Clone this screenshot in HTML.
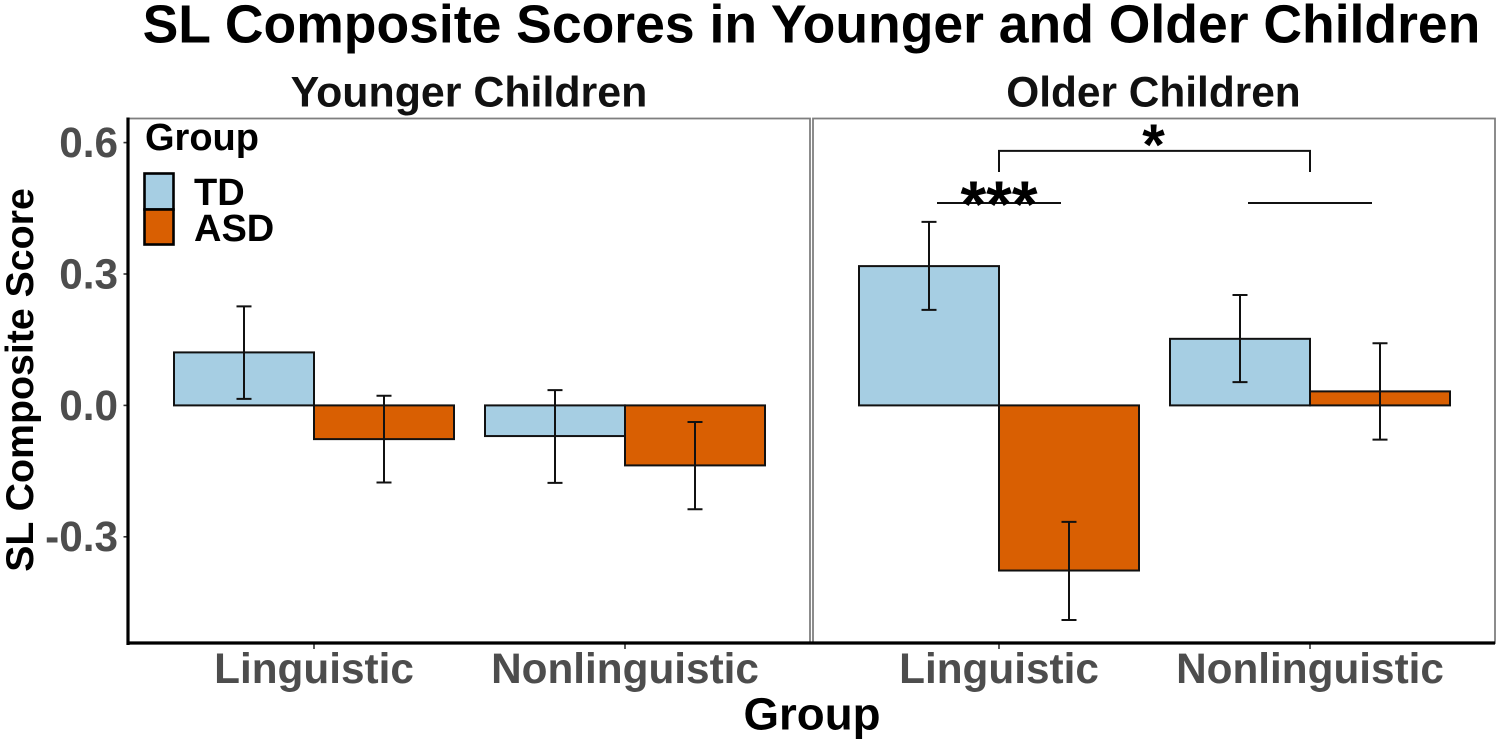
<!DOCTYPE html>
<html lang="en">
<head>
<meta charset="utf-8">
<title>SL Composite Scores in Younger and Older Children</title>
<style>
html,body{margin:0;padding:0;background:#fff;}
svg{display:block;}
text{font-family:"Liberation Sans",sans-serif;font-weight:bold;}
</style>
</head>
<body>
<svg id="chart" xmlns="http://www.w3.org/2000/svg" width="1499" height="743" viewBox="0 0 1499 743">
  <rect x="0" y="0" width="1499" height="743" fill="#fff"/>
  <text x="811.5" y="42.5" font-size="53.5" text-anchor="middle" fill="#000">SL Composite Scores in Younger and Older Children</text>
  <text x="469" y="106.5" font-size="42.9" text-anchor="middle" fill="#111">Younger Children</text>
  <text x="1153.5" y="106.5" font-size="42.4" text-anchor="middle" fill="#111">Older Children</text>
  <text transform="translate(33,380) rotate(-90)" font-size="39.3" text-anchor="middle" fill="#000">SL Composite Score</text>
  <text x="812" y="729.5" font-size="45.7" text-anchor="middle" fill="#000">Group</text>
  <g id="marks"></g>
  <g>
    <text x="145" y="150" font-size="38" fill="#000">Group</text>
    <rect x="144.5" y="173.5" width="29" height="36" fill="#A6CEE3" stroke="#000" stroke-width="2.6"/>
    <rect x="144.5" y="209.5" width="29" height="35" fill="#D95F02" stroke="#000" stroke-width="2.6"/>
    <text x="194" y="205" font-size="38" fill="#000">TD</text>
    <text x="194" y="241" font-size="38" fill="#000">ASD</text>
  </g>
</svg>
<script>
// Chart data
const panels = ["Younger Children", "Older Children"];
const categories = ["Linguistic", "Nonlinguistic"];
const groups = ["TD", "ASD"];
const yTicks = [0.6, 0.3, 0.0, -0.3];
const yTickLabels = ["0.6", "0.3", "0.0", "-0.3"];

const youngerTdMean = [0.121, -0.070];
const youngerTdHigh = [0.226, 0.035];
const youngerTdLow = [0.015, -0.177];
const youngerAsdMean = [-0.077, -0.137];
const youngerAsdHigh = [0.022, -0.038];
const youngerAsdLow = [-0.176, -0.237];

const olderTdMean = [0.318, 0.152];
const olderTdHigh = [0.419, 0.252];
const olderTdLow = [0.218, 0.053];
const olderAsdMean = [-0.377, 0.032];
const olderAsdHigh = [-0.266, 0.142];
const olderAsdLow = [-0.490, -0.078];

const groupLineLevel = 0.462;
const bracketTop = 0.581;
const bracketBottom = 0.533;

const seriesByPanel = [
  [
    { mean: youngerTdMean, high: youngerTdHigh, low: youngerTdLow },
    { mean: youngerAsdMean, high: youngerAsdHigh, low: youngerAsdLow }
  ],
  [
    { mean: olderTdMean, high: olderTdHigh, low: olderTdLow },
    { mean: olderAsdMean, high: olderAsdHigh, low: olderAsdLow }
  ]
];

// Axis functions
const PANEL_LEFT = [128, 813];
const PANEL_WIDTH = 682;
const PANEL_TOP = 118.5;
const PANEL_BOTTOM = 643;
const BAR_W = 140;
const y = v => 405.4 - v * 438;
const xCat = (p, c) => PANEL_LEFT[p] + 186 + c * 311;
const xBar = (p, c, g) => xCat(p, c) + (g === 0 ? -BAR_W : 0);

const NS = "http://www.w3.org/2000/svg";
const root = document.getElementById("marks");
function make(tag, attrs, parent) {
  const el = document.createElementNS(NS, tag);
  Object.keys(attrs).forEach(k => el.setAttribute(k, attrs[k]));
  (parent || root).appendChild(el);
  return el;
}
const colors = ["#A6CEE3", "#D95F02"];

panels.forEach((panelName, p) => {
  const slug = p === 0 ? "younger" : "older";
  const border = make("rect", { x: PANEL_LEFT[p], y: PANEL_TOP, width: PANEL_WIDTH, height: PANEL_BOTTOM - PANEL_TOP, fill: "none", stroke: "#7f7f7f", "stroke-width": 1.8 });
  
  

  categories.forEach((cat, c) => {
    groups.forEach((grp, g) => {
      const s = seriesByPanel[p][g];
      const v = s.mean[c];
      const bx = xBar(p, c, g);
      const bar = make("rect", { x: bx, y: Math.min(y(v), y(0)), width: BAR_W, height: Math.abs(y(v) - y(0)), fill: colors[g], stroke: "#111", "stroke-width": 2 });
      
      
    });
  });
  categories.forEach((cat, c) => {
    groups.forEach((grp, g) => {
      const s = seriesByPanel[p][g];
      const cx = xBar(p, c, g) + BAR_W / 2;
      const yh = y(s.high[c]);
      const yl = y(s.low[c]);
      const err = make("path", {
        d: "M" + (cx - 7.5) + " " + yh + "H" + (cx + 7.5) + "M" + cx + " " + yh + "V" + yl + "M" + (cx - 7.5) + " " + yl + "H" + (cx + 7.5),
        fill: "none", stroke: "#111", "stroke-width": 2
      });
      
      
    });
    const tick = make("line", { x1: xCat(p, c), x2: xCat(p, c), y1: PANEL_BOTTOM, y2: PANEL_BOTTOM + 6, stroke: "#333", "stroke-width": 1.6 });
    
    
    const lab = make("text", { x: xCat(p, c), y: 683, "font-size": 42.3, "text-anchor": "middle", fill: "#4d4d4d" });
    lab.textContent = cat;
    
    
  });
});

// Y axis ticks and labels
yTicks.forEach((t, i) => {
  const tick = make("line", { x1: 123.5, x2: 128, y1: y(t), y2: y(t), stroke: "#333", "stroke-width": 1.6 });
  
  
  const lab = make("text", { x: 118, y: y(t) + 14.4, "font-size": 42.3, "text-anchor": "end", fill: "#4d4d4d" });
  lab.textContent = yTickLabels[i];
  
  
});

// Axis lines
const yAxis = make("line", { x1: 128, x2: 128, y1: 117.5, y2: 645, stroke: "#000", "stroke-width": 3.2 });


const xAxis = make("line", { x1: 126.5, x2: PANEL_LEFT[1] + PANEL_WIDTH, y1: PANEL_BOTTOM, y2: PANEL_BOTTOM, stroke: "#000", "stroke-width": 3.2 });



// Significance annotations in the older panel
const lineHalf = 62;
const sigLineLing = make("line", { x1: xCat(1, 0) - lineHalf, x2: xCat(1, 0) + lineHalf, y1: y(groupLineLevel), y2: y(groupLineLevel), stroke: "#111", "stroke-width": 2 });


const sigLineNon = make("line", { x1: xCat(1, 1) - lineHalf, x2: xCat(1, 1) + lineHalf, y1: y(groupLineLevel), y2: y(groupLineLevel), stroke: "#111", "stroke-width": 2 });


const bracket = make("path", { d: "M" + xCat(1, 0) + " " + y(bracketBottom) + "V" + y(bracketTop) + "H" + xCat(1, 1) + "V" + y(bracketBottom), fill: "none", stroke: "#111", "stroke-width": 2 });


const star3 = make("text", { x: xCat(1, 0), y: 227, "font-size": 66, "text-anchor": "middle", fill: "#000" });
star3.textContent = "***";


const star1 = make("text", { x: (xCat(1, 0) + xCat(1, 1)) / 2 - 1, y: 165, "font-size": 58, "text-anchor": "middle", fill: "#000" });
star1.textContent = "*";


</script>
</body>
</html>
